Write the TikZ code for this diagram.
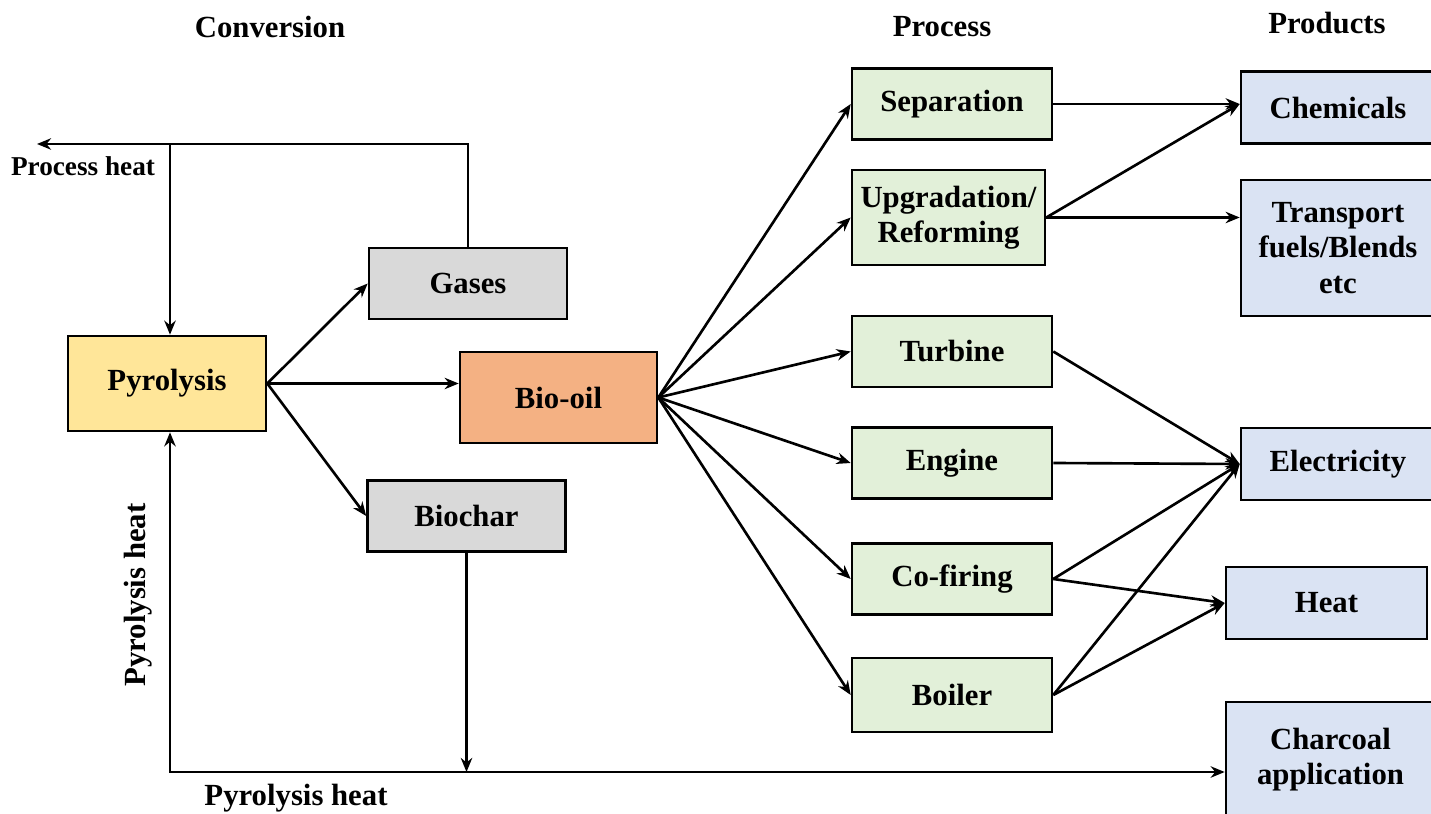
\documentclass[tikz,border=0pt]{standalone}
\usepackage{fontspec}
\setmainfont{Liberation Serif}
\usetikzlibrary{arrows.meta, positioning}

\definecolor{pyrofill}{HTML}{FFE699}
\definecolor{oilfill}{HTML}{F4B183}
\definecolor{greyfill}{HTML}{D9D9D9}
\definecolor{procfill}{HTML}{E2F0D9}
\definecolor{prodfill}{HTML}{DAE3F3}

\begin{document}
\begin{tikzpicture}[
  x=0.02cm, y=-0.02cm,
  ->, >={Stealth[length=8pt, width=6.5pt]},
  line width=1.5pt,
  box/.style={draw, line width=1.5pt, inner sep=0pt, align=center,
    font=\fontsize{17.5}{20}\selectfont\bfseries},
  convbox/.style={box, fill=greyfill, minimum width=3.96cm, minimum height=1.42cm},
  procbox/.style={box, fill=procfill, minimum width=4cm, minimum height=1.42cm},
  prodbox/.style={box, fill=prodfill, minimum width=3.88cm, minimum height=1.44cm},
  title/.style={font=\fontsize{17.5}{20}\selectfont\bfseries},
  lbl/.style={font=\fontsize{15.5}{18}\selectfont\bfseries}
]
  \useasboundingbox (0,0) rectangle (1431,814);

  % column titles
  \node[title] (tconv) at (270,27) {Conversion};
  \node[title] (tproc) at (942,27) {Process};
  \node[title] (tprod) at (1327,23) {Products};

  % conversion
  \node[box, fill=pyrofill, minimum width=3.96cm, minimum height=1.9cm] (pyro) at (167,383.5) {Pyrolysis};
  \node[convbox] (gas) at (468,283.5) {Gases};
  \node[box, fill=oilfill, minimum width=3.94cm, minimum height=1.82cm] (oil) at (558.5,397.5) {Bio-oil};
  \node[convbox] (char) at (466.5,516) {Biochar};

  % process
  \node[procbox] (sep) at (952,104) {Separation};
  \node[procbox, minimum width=3.86cm, minimum height=1.9cm] (upg) at (948.5,217.5) {Upgradation/\\Reforming};
  \node[procbox] (turb) at (952,351.5) {Turbine};
  \node[procbox] (eng) at (952,463) {Engine};
  \node[procbox] (cofi) at (952,579) {Co-firing};
  \node[procbox, minimum height=1.48cm] (boil) at (952,695) {Boiler};

  % products
  \node[prodbox] (chem) at (1338,107.5) {Chemicals};
  \node[prodbox, minimum height=2.72cm] (fuel) at (1338,248) {Transport\\fuels/Blends\\etc};
  \node[prodbox] (elec) at (1338,464) {Electricity};
  \node[prodbox, minimum width=4.02cm] (heat) at (1326.5,603) {Heat};
  \node[prodbox, minimum width=4.18cm, minimum height=2.32cm] (charc) at (1330.5,760) {Charcoal\\application};

  % heat loops
  \coordinate (phout) at (37,144);
  \coordinate (hline) at (170,772);
  \node[lbl] (phtext) at (83,166) {Process heat};
  \node[title, rotate=90] (pytext) at (138,595) {Pyrolysis heat};
  \node[title] (pybtext) at (296,798) {Pyrolysis heat};

  \draw (gas.north) |- (phout);
  \draw (phout -| hline) -- (hline |- pyro.north);
  \draw[<->] (hline |- pyro.south) |- (hline -| charc.west);
  \draw (char.south) -- (char.south |- hline);

  % conversion step
  \path
    (pyro.east) edge (gas.west)
    (pyro.east) edge (pyro.east -| oil.west)
    (pyro.east) edge (char.west);

  % bio-oil routes
  \foreach \p in {sep, upg, turb, eng, cofi, boil}
    \draw (oil.east) -- (\p.west);

  % products
  \path
    (sep.east) edge (sep.east -| chem.west)
    (upg.east) edge (sep.east -| chem.west)
    (upg.east) edge (upg.east -| fuel.west)
    (turb.east) edge (elec.west)
    (eng.east) edge (elec.west)
    (cofi.east) edge (elec.west)
    (cofi.east) edge (heat.west)
    (boil.east) edge (elec.west)
    (boil.east) edge (heat.west);
\end{tikzpicture}
\end{document}
